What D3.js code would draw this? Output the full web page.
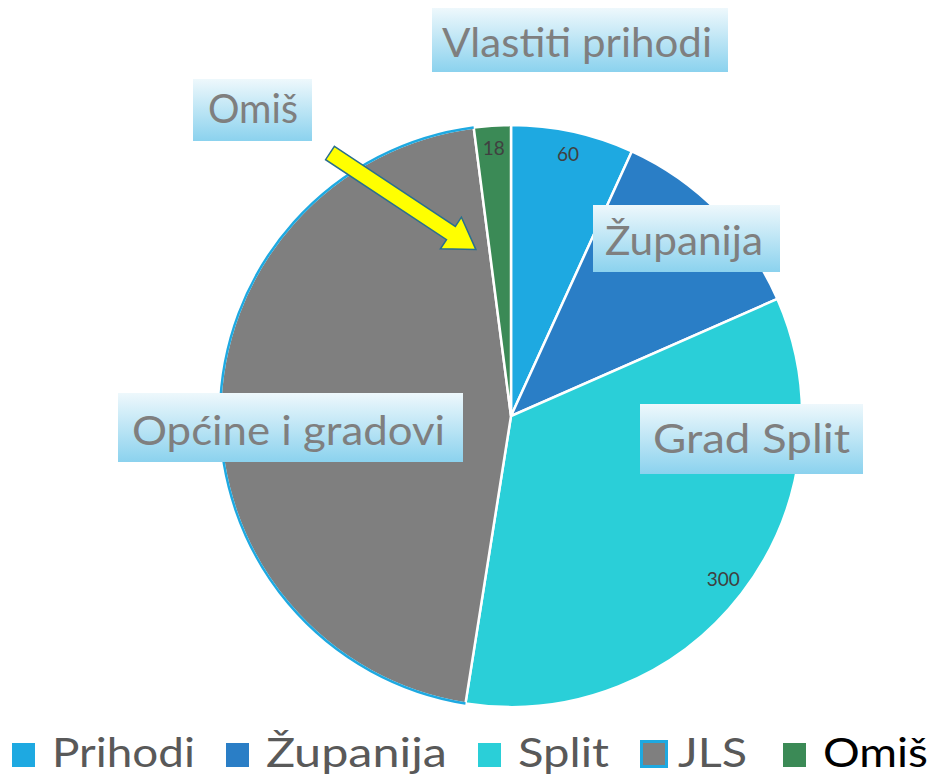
<!DOCTYPE html>
<html>
<head>
<meta charset="utf-8">
<script src="https://cdn.jsdelivr.net/npm/d3@7"></script>
<style>
  body { margin: 0; background: #fff; }
  svg text { font-family: 'Century Gothic', 'URW Gothic', Lato, sans-serif; }
</style>
</head>
<body>
<div id="chart"></div>
<script>
const categories = ['Prihodi', 'Županija', 'Split', 'JLS', 'Omiš'];
const values = [60, 102, 300, 400, 18];
const shownLabels = [true, false, true, false, true];
const colors = ['#1EA9E1', '#2A7EC6', '#2ACFD8', '#7F7F7F', '#3B8A56'];

const calloutText = ['Vlastiti prihodi', 'Županija', 'Grad Split', 'Općine i gradovi', 'Omiš'];

document.addEventListener('DOMContentLoaded', () => {
  const width = 931;
  const height = 778;
  const cx = 511;
  const cy = 416;
  const radius = 291;

  const svg = d3.select('#chart')
                .append('svg')
                .attr('width', width)
                .attr('height', height);

  const defs = svg.append('defs');
  const grad = defs.append('linearGradient')
                   .attr('id', 'boxGrad')
                   .attr('x1', 0).attr('y1', 0)
                   .attr('x2', 0).attr('y2', 1);
  grad.append('stop').attr('offset', '0%').attr('stop-color', '#EEF8FC');
  grad.append('stop').attr('offset', '100%').attr('stop-color', '#8BD2EE');

  const pie = d3.pie().sort(null).value(d => d);
  const arcs = pie(values);
  const arc = d3.arc().innerRadius(0).outerRadius(radius);
  const labelArc = d3.arc().innerRadius(268).outerRadius(268);

  const g = svg.append('g')
               .attr('transform', 'translate(' + cx + ',' + cy + ')');

  g.selectAll('path.slice')
   .data(arcs)
   .enter()
   .append('path')
   .attr('class', 'slice')
   .attr('d', arc)
   .style('fill', (d, i) => colors[i])
   .style('stroke', '#fff')
   .style('stroke-width', 2.5);

  // blue rim on the JLS slice
  const rim = d3.arc().innerRadius(radius).outerRadius(radius);
  g.append('path')
   .attr('d', rim(arcs[3]))
   .style('fill', 'none')
   .style('stroke', '#1EA9E1')
   .style('stroke-width', 2.5);

  g.selectAll('text.val')
   .data(arcs.filter((d, i) => shownLabels[i]))
   .enter()
   .append('text')
   .attr('class', 'val')
   .attr('transform', d => 'translate(' + labelArc.centroid(d) + ')')
   .attr('text-anchor', 'middle')
   .attr('dy', '0.35em')
   .style('font-size', '19px')
   .style('fill', '#404040')
   .text(d => d.value);

  // callout boxes
  const boxes = [
    { x: 432, y: 8, w: 296, h: 64, tx: 442, tl: 270, by: 57, t: calloutText[0] },
    { x: 593, y: 205, w: 187, h: 67, tx: 605, tl: 158, by: 255, t: calloutText[1] },
    { x: 640, y: 404, w: 223, h: 70, tx: 653, tl: 197, by: 453, t: calloutText[2] },
    { x: 118, y: 393, w: 345, h: 69, tx: 132, tl: 313, by: 445, t: calloutText[3] },
    { x: 193, y: 79, w: 119, h: 62, tx: 208, tl: 90, by: 123, t: calloutText[4] }
  ];

  const bg = svg.selectAll('g.box')
                .data(boxes)
                .enter()
                .append('g')
                .attr('class', 'box');

  bg.append('rect')
    .attr('x', d => d.x)
    .attr('y', d => d.y)
    .attr('width', d => d.w)
    .attr('height', d => d.h)
    .style('fill', 'url(#boxGrad)');

  bg.append('text')
    .attr('x', d => d.tx)
    .attr('y', d => d.by)
    .attr('textLength', d => d.tl)
    .attr('lengthAdjust', 'spacingAndGlyphs')
    .style('font-size', '40px')
    .style('fill', '#7F7F7F')
    .text(d => d.t);

  // yellow arrow pointing at Omiš
  const len = 175, shaft = 8, head = 19, headLen = 30;
  svg.append('path')
     .attr('d', 'M0,' + (-shaft) + 'L' + (len - headLen) + ',' + (-shaft) +
                'L' + (len - headLen) + ',' + (-head) + 'L' + len + ',0' +
                'L' + (len - headLen) + ',' + head + 'L' + (len - headLen) + ',' + shaft +
                'L0,' + shaft + 'Z')
     .attr('transform', 'translate(330,153) rotate(33.5)')
     .style('fill', '#FFFF00')
     .style('stroke', '#2A6F8E')
     .style('stroke-width', 1.5);

  // legend (text widths fitted to the original layout)
  const legendTextWidth = [143, 181, 91, 69, 105];
  const legend = svg.append('g')
                    .attr('transform', 'translate(12, 767)');
  let lx = 0;
  categories.forEach((c, i) => {
    const item = legend.append('g').attr('transform', 'translate(' + lx + ',0)');
    const sq = i === 3 ? 26 : 23;
    item.append('rect')
        .attr('x', i === 3 ? 1.5 : 0)
        .attr('y', i === 3 ? -25.5 : -24)
        .attr('width', i === 3 ? 25 : 23)
        .attr('height', i === 3 ? 25 : 24)
        .style('fill', colors[i])
        .style('stroke', i === 3 ? '#1EA9E1' : 'none')
        .style('stroke-width', 3);
    item.append('text')
        .attr('x', sq + 12 + (i === 3 ? 0 : 5))
        .attr('y', 0)
        .attr('textLength', legendTextWidth[i])
        .attr('lengthAdjust', 'spacingAndGlyphs')
        .style('font-size', '40px')
        .style('fill', i === 4 ? '#000' : '#595959')
        .text(c);
    lx += sq + 17 + legendTextWidth[i] + 31;
  });
});
</script>
</body>
</html>
